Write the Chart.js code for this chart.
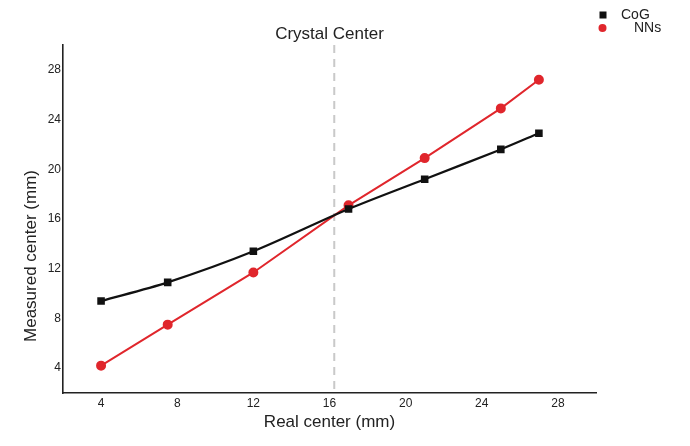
<!DOCTYPE html>
<html>
<head>
<meta charset="utf-8">
<script src="https://cdn.jsdelivr.net/npm/chart.js@4/dist/chart.umd.min.js"></script>
<style>
  html, body { margin: 0; padding: 0; background: #fff; }
  #wrap { width: 690px; height: 446px; position: relative; }
</style>
</head>
<body>
<div id="wrap"><canvas id="chart"></canvas></div>
<script>
// Real vs. measured source position (mm)
const realCenter   = [4, 7.5, 12, 17, 21, 25, 27];
const cogMeasured  = [9.4, 10.9, 13.4, 16.8, 19.2, 21.6, 22.9];
const nnsMeasured  = [4.2, 7.5, 11.7, 17.1, 20.9, 24.9, 27.2];
const xTickValues  = [4, 8, 12, 16, 20, 24, 28];
const yTickValues  = [4, 8, 12, 16, 20, 24, 28];
const crystalCenter = 16.25;
const seriesNames  = ['CoG', 'NNs'];

const FONT = '"Liberation Sans", Arial, Helvetica, sans-serif';
const TEXT = '#222';

const toPoints = (xs, ys) => xs.map((x, i) => ({ x: x, y: ys[i] }));

// Dashed marker at the crystal centre, title, y-axis title and legend
const annotations = {
  id: 'annotations',
  beforeDatasetsDraw(chart) {
    const { ctx, chartArea, scales } = chart;
    const px = scales.x.getPixelForValue(crystalCenter);
    ctx.save();
    ctx.strokeStyle = '#c9c9c9';
    ctx.lineWidth = 2;
    ctx.setLineDash([8, 6]);
    ctx.beginPath();
    ctx.moveTo(px, chartArea.top);
    ctx.lineTo(px, chartArea.bottom);
    ctx.stroke();
    ctx.restore();
  },
  afterDraw(chart) {
    const { ctx, chartArea } = chart;
    ctx.save();
    ctx.fillStyle = TEXT;
    ctx.textBaseline = 'middle';

    // chart title, centred over the plot
    ctx.font = '17px ' + FONT;
    ctx.textAlign = 'center';
    ctx.fillText('Crystal Center', (chartArea.left + chartArea.right) / 2, 34);

    // y-axis title
    ctx.save();
    ctx.translate(31, 256);
    ctx.rotate(-Math.PI / 2);
    ctx.font = '17px ' + FONT;
    ctx.fillText('Measured center (mm)', 0, 0);
    ctx.restore();

    // legend
    ctx.font = '14px ' + FONT;
    ctx.textAlign = 'left';
    const ds = chart.data.datasets;
    const rows = [
      { y: 15, tx: 621 },
      { y: 28, tx: 634 }
    ];
    ds.forEach((d, i) => {
      const r = rows[i];
      ctx.fillStyle = d.pointBackgroundColor;
      if (d.pointStyle === 'rect') {
        ctx.fillRect(599.5, r.y - 3.5, 7, 7);
      } else {
        ctx.beginPath();
        ctx.arc(602.5, r.y, 4, 0, Math.PI * 2);
        ctx.fill();
      }
      ctx.fillStyle = TEXT;
      ctx.fillText(d.label, r.tx, r.y);
    });
    ctx.restore();
  }
};

new Chart(document.getElementById('chart'), {
  type: 'scatter',
  data: {
    datasets: [
      {
        label: seriesNames[0],
        data: toPoints(realCenter, cogMeasured),
        showLine: true,
        borderColor: '#111111',
        backgroundColor: '#111111',
        pointBackgroundColor: '#111111',
        pointBorderColor: '#111111',
        pointStyle: 'rect',
        pointRadius: 3.8,
        borderWidth: 2.2,
        tension: 0.3
      },
      {
        label: seriesNames[1],
        data: toPoints(realCenter, nnsMeasured),
        showLine: true,
        borderColor: '#e0262c',
        backgroundColor: '#e0262c',
        pointBackgroundColor: '#e0262c',
        pointBorderColor: '#e0262c',
        pointStyle: 'circle',
        pointRadius: 4,
        borderWidth: 2,
        tension: 0
      }
    ]
  },
  options: {
    responsive: true,
    maintainAspectRatio: false,
    animation: false,
    layout: { padding: { top: 45, right: 94, bottom: 0, left: 0 } },
    plugins: {
      legend: { display: false },
      title: { display: false },
      tooltip: { enabled: false }
    },
    scales: {
      x: {
        type: 'linear',
        min: 2,
        max: 30,
        grid: { display: false, drawTicks: false },
        border: { display: true, color: '#222', width: 1.6 },
        afterBuildTicks: (axis) => { axis.ticks = xTickValues.map(v => ({ value: v })); },
        afterFit: (axis) => { axis.height = 53; },
        ticks: {
          padding: 3,
          color: TEXT,
          font: { family: FONT, size: 12 }
        },
        title: {
          display: true,
          text: 'Real center (mm)',
          color: TEXT,
          font: { family: FONT, size: 17 },
          padding: { top: 0, bottom: 13 }
        }
      },
      y: {
        type: 'linear',
        min: 2,
        max: 30,
        grid: { display: false, drawTicks: false },
        border: { display: true, color: '#222', width: 1.6 },
        afterBuildTicks: (axis) => { axis.ticks = yTickValues.map(v => ({ value: v })); },
        afterFit: (axis) => { axis.width = 63; },
        ticks: {
          padding: 2,
          color: TEXT,
          font: { family: FONT, size: 12 }
        },
        title: { display: false }
      }
    }
  },
  plugins: [annotations]
});
</script>
</body>
</html>
